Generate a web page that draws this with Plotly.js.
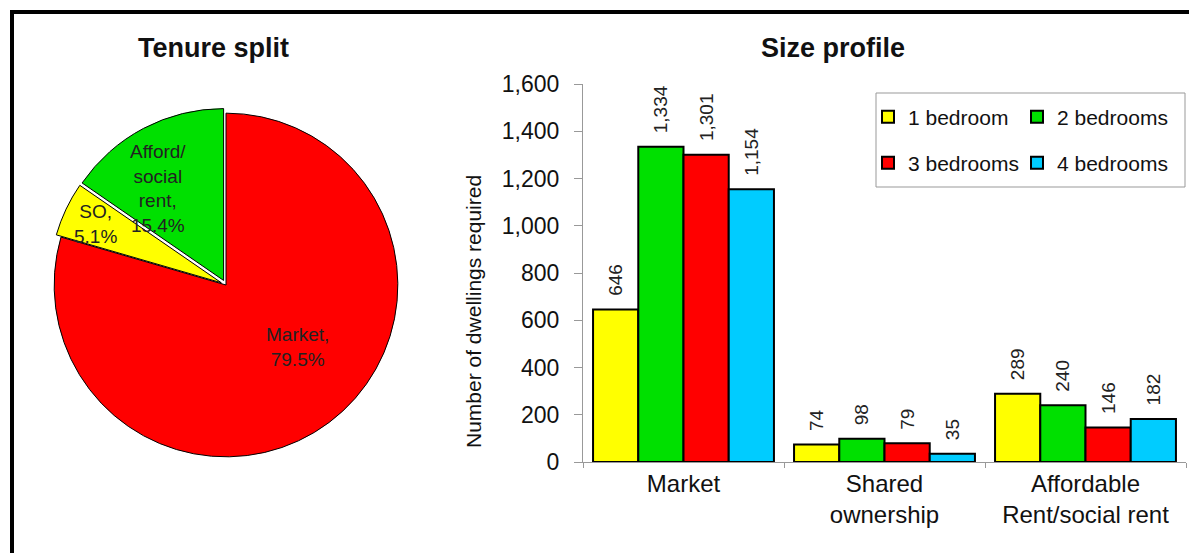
<!DOCTYPE html>
<html>
<head>
<meta charset="utf-8">
<script src="https://cdn.plot.ly/plotly-3.0.1.min.js"></script>
<style>html,body{margin:0;padding:0;background:#fff;}#chart{width:1189px;height:553px;}</style>
</head>
<body>
<div id="chart"></div>
<script>
// Tenure split (pie)
const tenureLabels = ['Market', 'SO', 'Afford/<br>social<br>rent'];
const tenureValues = [79.5, 5.1, 15.4];
const tenureColors = ['#ff0000', '#ffff00', '#00e000'];

// Size profile (grouped bars)
const categories = ['Market', 'Shared<br>ownership', 'Affordable<br>Rent/social rent'];
const seriesNames = ['1 bedroom', '2 bedrooms', '3 bedrooms', '4 bedrooms'];
const oneBed = [646, 74, 289];
const twoBed = [1334, 98, 240];
const threeBed = [1301, 79, 146];
const fourBed = [1154, 35, 182];
const seriesColors = ['#ffff00', '#00e000', '#ff0000', '#00ccff'];
const yTicks = [0, 200, 400, 600, 800, 1000, 1200, 1400, 1600];

const W = 1189, H = 553;
const px = v => v / W;
const py = v => 1 - v / H;
const FONT = 'Arial, "Liberation Sans", sans-serif';

const pie = {
  type: 'pie',
  labels: tenureLabels,
  values: tenureValues,
  sort: false,
  direction: 'clockwise',
  rotation: 0,
  pull: [0, 0.03, 0.03],
  marker: {colors: tenureColors, line: {color: '#000', width: 1}},
  textinfo: 'none',
  hoverinfo: 'none',
  showlegend: false,
  domain: {x: [px(46), px(406)], y: [py(462), py(108)]}
};

// slice label positions (centre of each label block, in pixels)
const pieLabelPos = [[297, 347], [95, 224], [158, 188]];
const pieAnnotations = tenureLabels.map((lab, i) => ({
  text: lab + ',<br>' + tenureValues[i].toFixed(1) + '%',
  xref: 'paper', yref: 'paper', x: px(pieLabelPos[i][0]), y: py(pieLabelPos[i][1]),
  xanchor: 'center', yanchor: 'middle', showarrow: false,
  font: {family: FONT, size: 19, color: '#222'}
}));

const allSeries = [oneBed, twoBed, threeBed, fourBed];
const legendIds = ['legend', 'legend2', 'legend3', 'legend4'];
const bars = allSeries.map((vals, i) => ({
  type: 'bar',
  name: seriesNames[i],
  x: categories,
  y: vals,
  marker: {color: seriesColors[i], line: {color: '#000', width: 2}},
  texttemplate: '\u00a0\u00a0%{y:,}',
  textposition: 'outside',
  textangle: -90,
  constraintext: 'none',
  textfont: {family: FONT, size: 19, color: '#222'},
  cliponaxis: false,
  hoverinfo: 'none',
  legend: legendIds[i],
  xaxis: 'x', yaxis: 'y'
}));

function leg(x, y) {
  return {x: px(x), y: py(y), xanchor: 'left', yanchor: 'middle', bgcolor: 'rgba(0,0,0,0)',
          borderwidth: 0, font: {family: FONT, size: 21, color: '#111'}, itemclick: false, itemdoubleclick: false};
}

const layout = {
  width: W, height: H,
  margin: {l: 0, r: 0, t: 0, b: 0},
  paper_bgcolor: '#fff', plot_bgcolor: 'rgba(0,0,0,0)',
  font: {family: FONT, color: '#111'},
  barmode: 'group',
  bargap: 0.1,
  bargroupgap: 0,
  xaxis: {
    domain: [px(583), px(1186)],
    showline: true, linecolor: '#999', linewidth: 1,
    ticks: 'outside', ticklen: 5, tickcolor: '#999', tickson: 'boundaries',
    tickfont: {family: FONT, size: 24, color: '#111'},
    showgrid: false, zeroline: false, fixedrange: true
  },
  yaxis: {
    domain: [py(462), py(84)],
    range: [0, 1600],
    tickvals: yTicks,
    tickformat: ',',
    showline: true, linecolor: '#999', linewidth: 1,
    ticks: 'outside', ticklen: 8, tickcolor: '#999',
    ticklabelstandoff: 10,
    tickfont: {family: FONT, size: 23, color: '#111'},
    showgrid: false, zeroline: false, fixedrange: true
  },
  legend: leg(868, 117),
  legend2: leg(1017, 117),
  legend3: leg(868, 163),
  legend4: leg(1017, 163),
  shapes: [
    {type: 'rect', xref: 'paper', yref: 'paper', x0: px(12), x1: 1.05, y0: -0.05, y1: py(12),
     line: {color: '#000', width: 4}, fillcolor: 'rgba(0,0,0,0)'},
    {type: 'rect', xref: 'paper', yref: 'paper', x0: px(876), x1: px(1185), y0: py(187), y1: py(93),
     line: {color: '#999', width: 1}, fillcolor: 'rgba(0,0,0,0)', layer: 'below'}
  ],
  annotations: [
    {text: '<b>Tenure split</b>', xref: 'paper', yref: 'paper', x: px(213), y: py(48),
     xanchor: 'center', yanchor: 'middle', showarrow: false, font: {family: FONT, size: 27, color: '#111'}},
    {text: '<b>Size profile</b>', xref: 'paper', yref: 'paper', x: px(833), y: py(48),
     xanchor: 'center', yanchor: 'middle', showarrow: false, font: {family: FONT, size: 27, color: '#111'}},
    {text: 'Number of dwellings required', xref: 'paper', yref: 'paper', x: px(473), y: py(312),
     xanchor: 'center', yanchor: 'middle', textangle: -90, showarrow: false,
     font: {family: FONT, size: 21, color: '#111'}}
  ].concat(pieAnnotations)
};

Plotly.newPlot('chart', [pie].concat(bars), layout, {displayModeBar: false, staticPlot: true});
</script>
</body>
</html>
